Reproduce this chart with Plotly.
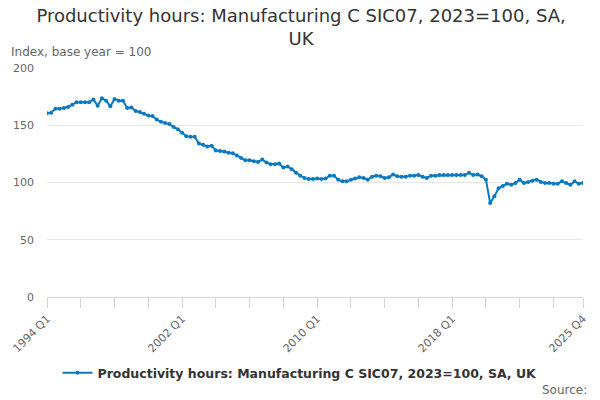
import plotly.graph_objects as go

# Quarterly categories 1994 Q1 .. 2025 Q4
quarters = [f"{y} Q{q}" for y in range(1994, 2026) for q in range(1, 5)]

# Index values (2023=100)
productivity = [
    160.5, 161, 164.5, 164.5, 165, 166, 168, 170, 170, 170, 170, 172.5,
    167, 173.5, 171.5, 166.5, 173, 171.5, 171.5, 165, 165.5, 162.5, 161.5, 160,
    158.5, 158, 155, 153, 152, 151, 148.5, 146.5, 143.5, 140.5, 140, 140,
    134, 133, 131.5, 132, 128, 127.5, 127, 126, 125.5, 123.5, 121.5, 119.5,
    119.5, 118.5, 118, 120, 117.5, 116, 116, 116.5, 113, 114, 111.5, 108.5,
    106, 104, 103, 103, 103.5, 103, 103.5, 106, 106, 102.5, 101, 101,
    102.5, 103.5, 104.5, 104, 102.5, 105, 106, 105.5, 104, 104.5, 107, 105.5,
    105, 105, 106, 106, 106.5, 105, 104, 106, 106, 106.5, 106.5, 106.5,
    106.5, 106.5, 106.5, 106.5, 108.5, 106.5, 107, 105.5, 102.5, 82, 88, 95,
    97, 99, 98, 99.5, 102.5, 99.5, 100.5, 101.5, 102.5, 100.5, 99.5, 99.5,
    99, 99, 101, 99.5, 98, 101, 99, 99.5,
]

series_name = "Productivity hours: Manufacturing C SIC07, 2023=100, SA, UK"
label_quarters = ["1994 Q1", "2002 Q1", "2010 Q1", "2018 Q1", "2025 Q4"]

# tick marks every 2 years plus the last quarter
tick_vals = quarters[::8] + [quarters[-1]]
tick_text = [q if q in label_quarters else "" for q in tick_vals]

line_color = "#0b79c1"
grey = "#666666"

fig = go.Figure()
fig.add_trace(go.Scatter(
    x=quarters, y=productivity, mode="lines+markers", name=series_name,
    line=dict(color=line_color, width=2),
    marker=dict(color=line_color, size=4),
))

# the page body adds an 8px offset, so the figure is 8px smaller
fig.update_layout(
    width=592, height=392,
    margin=dict(l=39, r=17, t=60, b=103, autoexpand=False),
    paper_bgcolor="white", plot_bgcolor="white",
    font=dict(family="DejaVu Sans", color=grey, size=11),
    title=dict(text="Productivity hours: Manufacturing C SIC07, 2023=100, SA,<br>UK",
               x=0.495, xanchor="center", xref="container",
               y=0.965, yanchor="top", yref="container",
               font=dict(size=18, color="#333333")),
    showlegend=True,
    legend=dict(orientation="h", x=0.472, xanchor="center",
                y=-0.332, yanchor="middle",
                font=dict(size=12.5, color="#333333", weight="bold")),
    annotations=[
        dict(text="Index, base year = 100", xref="paper", yref="paper",
             x=-0.071, y=1.07, xanchor="left", yanchor="middle",
             showarrow=False, font=dict(size=12, color=grey)),
        dict(text="Source:", xref="paper", yref="paper",
             x=1.011, y=-0.406, xanchor="right", yanchor="middle",
             showarrow=False, font=dict(size=12, color=grey)),
    ],
)

fig.update_xaxes(
    type="category", range=[0, len(quarters) - 1], automargin=False,
    tickmode="array", tickvals=tick_vals, ticktext=tick_text,
    tickangle=-45, ticks="outside", ticklen=10, tickcolor="#ccd6eb",
    showline=True, linecolor="#ccd6eb", linewidth=1,
    showgrid=False, zeroline=False, tickfont=dict(size=11, color=grey),
)

fig.update_yaxes(
    range=[0, 200], tickvals=[0, 50, 100, 150, 200], automargin=False,
    showgrid=True, gridcolor="#e6e6e6", gridwidth=1,
    zeroline=False, showline=False, ticks="",
    ticklabelstandoff=12, tickfont=dict(size=11, color=grey),
)

fig.write_html("out.html")
